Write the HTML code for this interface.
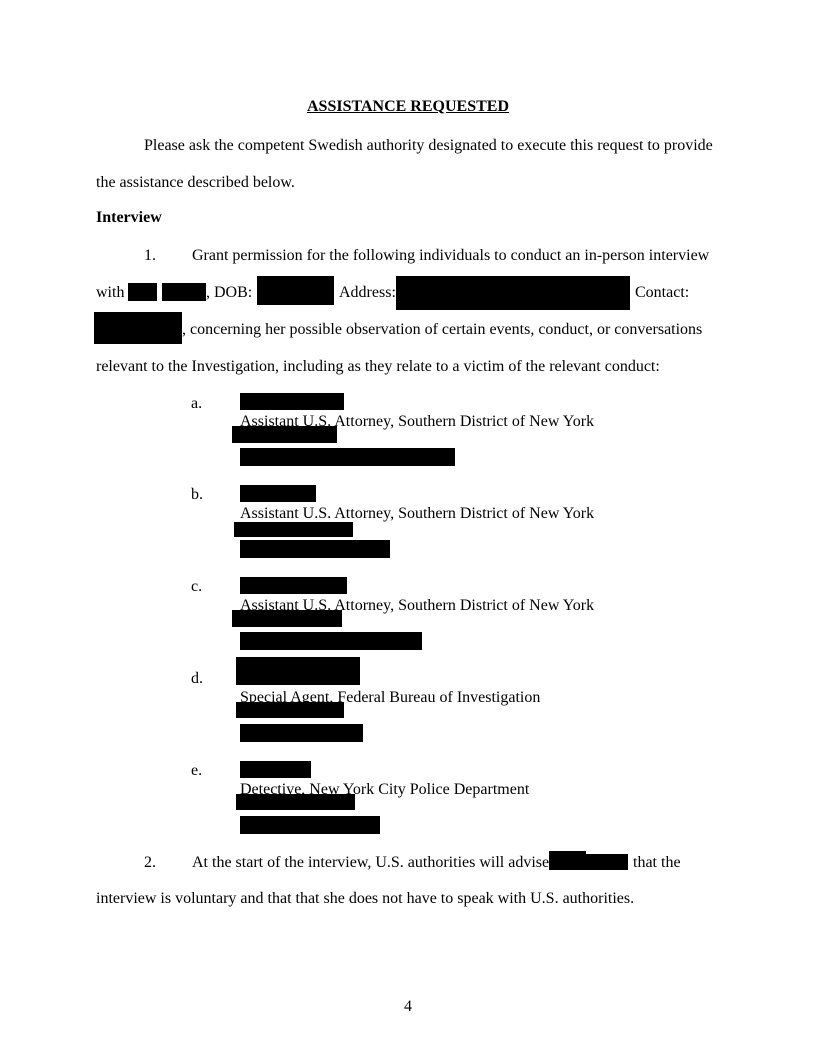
<!DOCTYPE html>
<html><head><meta charset="utf-8"><style>
html,body{margin:0;padding:0;background:#fff;}
body{width:816px;height:1056px;position:relative;overflow:hidden;font-family:"Liberation Serif",serif;font-size:16px;color:#000;}
.t{position:absolute;line-height:20px;white-space:nowrap;margin-top:1px;}
.r{position:absolute;background:#000;}
</style></head><body>
<div class="t" style="left:0;width:816px;text-align:center;top:96px;font-weight:bold;text-decoration:underline;">ASSISTANCE REQUESTED</div>
<div class="t" style="left:144px;top:135px;">Please ask the competent Swedish authority designated to execute this request to provide</div>
<div class="t" style="left:96px;top:172px;">the assistance described below.</div>
<div class="t" style="left:96px;top:207px;font-weight:bold;">Interview</div>
<div class="t" style="left:144px;top:245px;">1.</div>
<div class="t" style="left:192px;top:245px;">Grant permission for the following individuals to conduct an in-person interview</div>
<div class="t" style="left:96px;top:282px;">with</div>
<div class="t" style="left:206px;top:282px;">, DOB:</div>
<div class="t" style="left:339px;top:282px;">Address:</div>
<div class="t" style="left:635px;top:282px;">Contact:</div>
<div class="r" style="left:128px;top:283px;width:29px;height:18px;"></div>
<div class="r" style="left:162px;top:283px;width:44px;height:18px;"></div>
<div class="r" style="left:257px;top:276px;width:77px;height:29px;"></div>
<div class="r" style="left:396px;top:276px;width:234px;height:34px;"></div>
<div class="t" style="left:182px;top:319px;">, concerning her possible observation of certain events, conduct, or conversations</div>
<div class="r" style="left:94px;top:312px;width:88px;height:32px;"></div>
<div class="t" style="left:96px;top:356px;">relevant to the Investigation, including as they relate to a victim of the relevant conduct:</div>

<div class="t" style="left:191px;top:393px;">a.</div>
<div class="t" style="left:240px;top:411px;">Assistant U.S. Attorney, Southern District of New York</div>
<div class="r" style="left:240px;top:393px;width:104px;height:17px;"></div>
<div class="r" style="left:232px;top:426px;width:105px;height:17px;"></div>
<div class="r" style="left:240px;top:448px;width:215px;height:18px;"></div>

<div class="t" style="left:191px;top:484px;">b.</div>
<div class="t" style="left:240px;top:503px;">Assistant U.S. Attorney, Southern District of New York</div>
<div class="r" style="left:240px;top:485px;width:76px;height:17px;"></div>
<div class="r" style="left:234px;top:522px;width:119px;height:15px;"></div>
<div class="r" style="left:240px;top:540px;width:150px;height:18px;"></div>

<div class="t" style="left:191px;top:576px;">c.</div>
<div class="t" style="left:240px;top:595px;">Assistant U.S. Attorney, Southern District of New York</div>
<div class="r" style="left:240px;top:577px;width:107px;height:17px;"></div>
<div class="r" style="left:232px;top:610px;width:110px;height:17px;"></div>
<div class="r" style="left:240px;top:632px;width:182px;height:18px;"></div>

<div class="t" style="left:191px;top:668px;">d.</div>
<div class="t" style="left:240px;top:687px;">Special Agent, Federal Bureau of Investigation</div>
<div class="r" style="left:236px;top:657px;width:124px;height:28px;"></div>
<div class="r" style="left:236px;top:702px;width:108px;height:16px;"></div>
<div class="r" style="left:240px;top:724px;width:123px;height:18px;"></div>

<div class="t" style="left:191px;top:760px;">e.</div>
<div class="t" style="left:240px;top:779px;">Detective, New York City Police Department</div>
<div class="r" style="left:240px;top:761px;width:71px;height:17px;"></div>
<div class="r" style="left:236px;top:794px;width:119px;height:16px;"></div>
<div class="r" style="left:240px;top:816px;width:140px;height:18px;"></div>

<div class="t" style="left:144px;top:852px;">2.</div>
<div class="t" style="left:192px;top:852px;">At the start of the interview, U.S. authorities will advise</div>
<div class="r" style="left:549px;top:851px;width:37px;height:19px;"></div>
<div class="r" style="left:585px;top:854px;width:43px;height:16px;"></div>
<div class="t" style="left:633px;top:852px;">that the</div>
<div class="t" style="left:96px;top:888px;">interview is voluntary and that that she does not have to speak with U.S. authorities.</div>
<div class="t" style="left:0;width:816px;text-align:center;top:996px;">4</div>
</body></html>
